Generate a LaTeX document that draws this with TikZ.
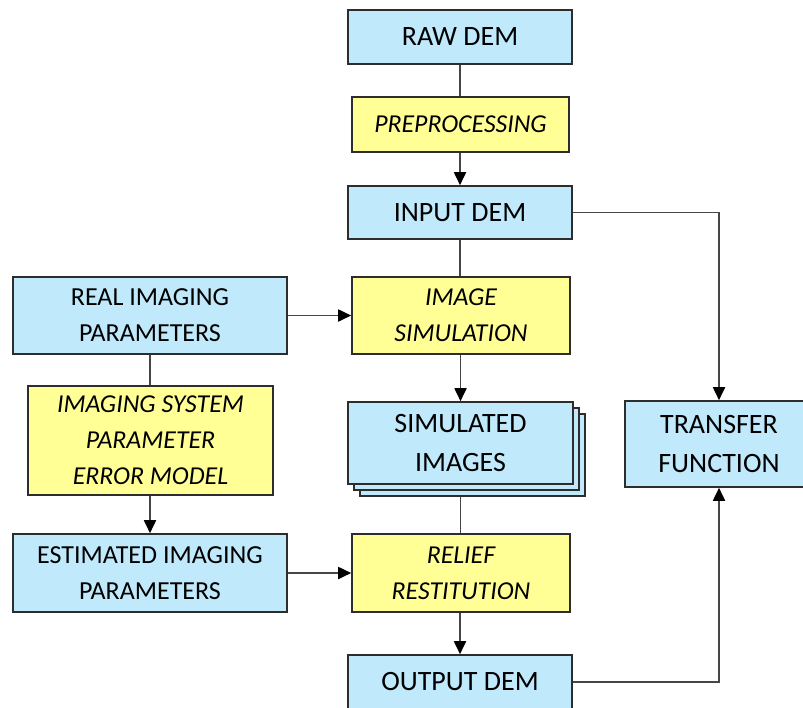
\documentclass[tikz,border=0pt]{standalone}
\usepackage{fontspec}
\setmainfont{Carlito}
\usetikzlibrary{arrows.meta,calc}
\definecolor{boxblue}{RGB}{192,234,252}
\definecolor{boxyellow}{RGB}{255,255,150}
\definecolor{edge}{RGB}{45,45,45}
\definecolor{conn}{RGB}{70,70,70}
\begin{document}
\begin{tikzpicture}[x=1pt,y=-1pt,
  base/.style={draw=edge,line width=1.6pt,rectangle,inner sep=0pt,align=center,text=black},
  bluebox/.style={base,fill=boxblue,font=\fontsize{28}{39}\selectfont},
  bluemid/.style={base,fill=boxblue,font=\fontsize{26}{36}\selectfont},
  yellowbox/.style={base,fill=boxyellow,font=\fontsize{25.8}{36}\selectfont\itshape},
  plain/.style={draw=conn,line width=1.8pt},
  arr/.style={plain,-{Triangle[width=12pt,length=13pt,fill=black,color=black]}},
]
\useasboundingbox (0,0) rectangle (803,707);
% nodes
\node[bluebox,minimum width=224pt,minimum height=54pt] (raw) at (460,37) {RAW DEM};
\node[yellowbox,minimum width=217pt,minimum height=55pt] (pre) at (460.5,124.5) {PREPROCESSING};
\node[bluebox,minimum width=224pt,minimum height=53pt] (input) at (460,212.5) {INPUT DEM};
\node[yellowbox,minimum width=218pt,minimum height=77pt] (imgsim) at (461,315.5) {IMAGE\\SIMULATION};
\node[bluemid,minimum width=274pt,minimum height=77pt] (real) at (150,315.5) {REAL IMAGING\\PARAMETERS};
\node[yellowbox,minimum width=245pt,minimum height=109pt] (ierr) at (150.5,440.5) {IMAGING SYSTEM\\PARAMETER\\ERROR MODEL};
\node[bluebox,minimum width=225pt,minimum height=82pt] (simc) at (472.5,455) {};
\node[bluebox,minimum width=225pt,minimum height=82pt] (simb) at (466.5,449) {};
\node[bluebox,minimum width=225pt,minimum height=82pt] (sim) at (460.5,443) {SIMULATED\\IMAGES};
\node[bluebox,minimum width=188pt,minimum height=86pt] (tf) at (719,444) {TRANSFER\\FUNCTION};
\node[bluemid,minimum width=274pt,minimum height=78pt] (est) at (150,573) {ESTIMATED IMAGING\\PARAMETERS};
\node[yellowbox,minimum width=218pt,minimum height=78pt] (rel) at (461,573) {RELIEF\\RESTITUTION};
\node[bluebox,minimum width=224pt,minimum height=54pt] (out) at (460,682) {OUTPUT DEM};
% connectors
\draw[plain] (raw.south) -- (raw.south |- pre.north);
\draw[arr] (pre.south -| raw.south) -- (input.north);
\draw[plain] (input.south) -- (input.south |- imgsim.north);
\draw[arr] (imgsim.south -| sim.north) -- (sim.north);
\draw[plain] (sim.south |- simc.south) -- (sim.south |- rel.north);
\draw[arr] (rel.south -| out.north) -- (out.north);
\draw[plain] (real.south) -- (real.south |- ierr.north);
\draw[arr] (ierr.south -| est.north) -- (est.north);
\draw[arr] (real.east) -- (imgsim.west |- real.east);
\draw[arr] (est.east) -- (rel.west |- est.east);
\draw[arr] (input.east) -| (tf.north);
\draw[arr] (out.east) -| (tf.south);
\end{tikzpicture}
\end{document}
